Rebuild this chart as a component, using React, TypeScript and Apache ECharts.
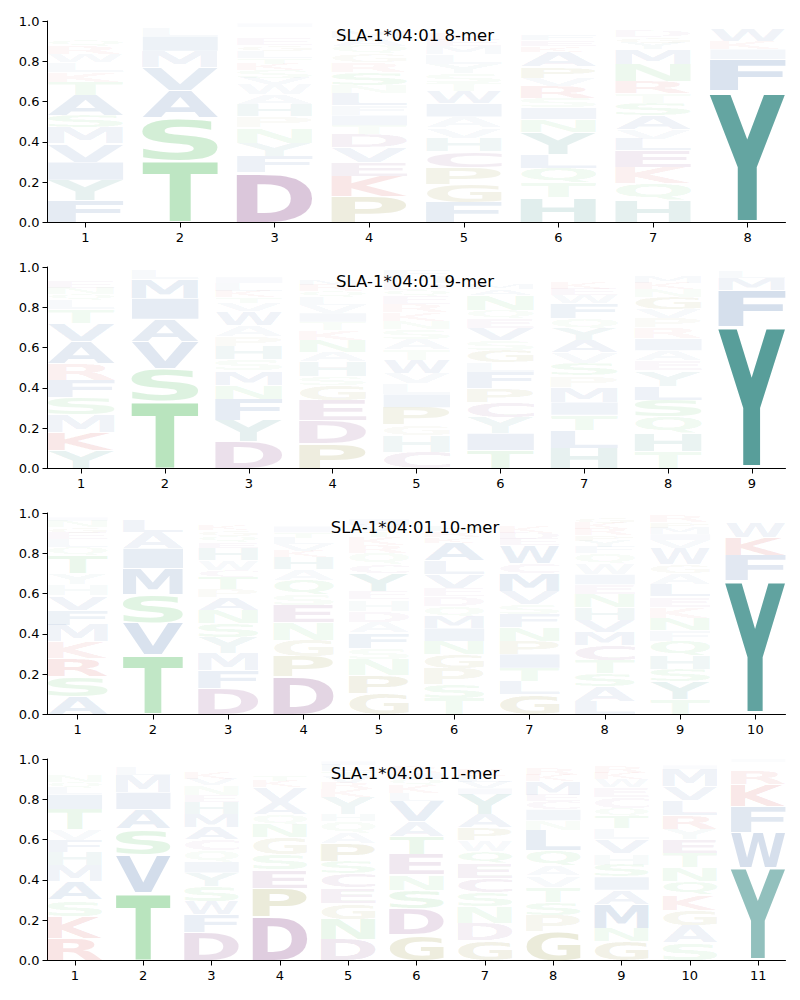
import React, { useEffect, useRef } from 'react';
import * as echarts from 'echarts';

type Col = [string, number][];

// Each column lists [letter, probability] from bottom to top.
const MER8: Col[] = [
  [['F', .11], ['Y', .10], ['I', .09], ['V', .09], ['M', .08], ['S', .06], ['A', .10], ['T', .065], ['K', .05], ['L', .05], ['W', .04], ['R', .04], ['Q', .03], ['N', .025], ['E', .02], ['H', .02], ['G', .015], ['D', .01], ['P', .005]],
  [['T', .31], ['S', .21], ['A', .135], ['V', .115], ['M', .08], ['I', .075], ['L', .04], ['F', .01], ['Q', .01], ['K', .008], ['W', .007]],
  [['D', .245], ['F', .08], ['Y', .065], ['N', .075], ['P', .055], ['H', .06], ['A', .05], ['W', .05], ['V', .03], ['S', .04], ['K', .03], ['T', .03], ['L', .03], ['G', .03], ['E', .03], ['M', .02], ['R', .02], ['Q', .02], ['I', .02], ['C', .01]],
  [['P', .127], ['K', .10], ['E', .07], ['V', .075], ['D', .065], ['T', .045], ['I', .05], ['F', .05], ['L', .06], ['N', .04], ['S', .065], ['R', .05], ['G', .04], ['Q', .04], ['A', .04], ['M', .03], ['Y', .02], ['C', .01], ['W', .01], ['H', .013]],
  [['F', .10], ['G', .09], ['P', .085], ['C', .08], ['H', .065], ['V', .05], ['A', .055], ['I', .065], ['W', .06], ['T', .04], ['S', .05], ['Y', .045], ['L', .05], ['M', .04], ['E', .03], ['K', .03], ['N', .025], ['R', .02], ['Q', .01], ['D', .01]],
  [['H', .125], ['T', .073], ['Q', .075], ['L', .07], ['Y', .11], ['N', .064], ['I', .058], ['S', .05], ['R', .058], ['V', .04], ['P', .058], ['A', .075], ['K', .03], ['E', .03], ['F', .03], ['M', .02], ['W', .01], ['G', .02], ['D', .014]],
  [['H', .11], ['Q', .083], ['K', .082], ['E', .082], ['L', .058], ['V', .045], ['A', .07], ['S', .06], ['T', .05], ['R', .06], ['N', .085], ['M', .075], ['Y', .03], ['G', .03], ['D', .03], ['W', .02], ['P', .02], ['C', .01]],
  [['Y', .655], ['F', .155], ['I', .05], ['K', .04], ['W', .06], ['M', .02], ['L', .02]],
];

const MER9: Col[] = [
  [['Y', .09], ['K', .09], ['M', .085], ['S', .085], ['F', .085], ['R', .08], ['A', .11], ['V', .09], ['T', .065], ['L', .045], ['Q', .03], ['N', .03], ['E', .03], ['G', .02], ['H', .02], ['D', .02], ['P', .015]],
  [['T', .335], ['S', .16], ['V', .135], ['A', .11], ['I', .105], ['M', .095], ['L', .05], ['F', .01]],
  [['D', .135], ['Y', .105], ['F', .105], ['N', .07], ['M', .07], ['S', .055], ['H', .065], ['P', .05], ['A', .055], ['W', .07], ['V', .04], ['T', .03], ['K', .03], ['L', .04], ['I', .03], ['E', .02], ['G', .02], ['R', .01]],
  [['P', .125], ['D', .115], ['E', .10], ['G', .075], ['S', .045], ['H', .075], ['A', .05], ['N', .06], ['K', .05], ['T', .04], ['I', .045], ['V', .04], ['L', .04], ['Q', .03], ['R', .03], ['M', .03], ['F', .02], ['Y', .02], ['W', .01], ['C', .01]],
  [['C', .08], ['H', .08], ['G', .05], ['P', .085], ['I', .065], ['L', .05], ['V', .05], ['W', .065], ['T', .05], ['A', .05], ['S', .05], ['N', .04], ['K', .04], ['R', .04], ['E', .04], ['Q', .03], ['D', .03], ['M', .03], ['F', .03], ['Y', .02]],
  [['T', .09], ['I', .085], ['Y', .08], ['C', .075], ['P', .07], ['F', .08], ['L', .05], ['G', .06], ['S', .05], ['V', .06], ['E', .045], ['Q', .045], ['N', .075], ['A', .03], ['M', .03], ['K', .025], ['H', .02], ['D', .015], ['R', .01], ['W', .01]],
  [['H', .10], ['L', .09], ['T', .075], ['I', .065], ['M', .075], ['P', .055], ['S', .06], ['V', .055], ['A', .06], ['Y', .06], ['Q', .05], ['F', .075], ['W', .04], ['E', .03], ['K', .03], ['R', .02], ['N', .02], ['D', .02], ['G', .02]],
  [['T', .085], ['H', .09], ['Q', .08], ['S', .085], ['L', .07], ['Y', .075], ['E', .05], ['A', .05], ['I', .06], ['R', .055], ['P', .045], ['V', .045], ['G', .06], ['N', .04], ['K', .03], ['M', .03], ['F', .02], ['W', .01], ['D', .01], ['C', .01]],
  [['Y', .705], ['F', .18], ['M', .06], ['L', .03], ['W', .025]],
];

const MER10: Col[] = [
  [['A', .09], ['S', .10], ['R', .09], ['K', .08], ['M', .085], ['F', .075], ['V', .07], ['H', .055], ['Y', .055], ['T', .09], ['Q', .04], ['L', .04], ['E', .03], ['G', .03], ['N', .03], ['I', .02], ['D', .02]],
  [['T', .295], ['V', .16], ['S', .14], ['M', .13], ['I', .10], ['A', .08], ['L', .06], ['F', .02], ['Q', .015]],
  [['D', .13], ['F', .09], ['M', .085], ['Y', .08], ['S', .07], ['N', .065], ['A', .065], ['P', .04], ['T', .065], ['C', .035], ['W', .05], ['H', .06], ['E', .03], ['Q', .03], ['G', .03], ['K', .03], ['L', .02], ['R', .02], ['V', .015]],
  [['D', .185], ['P', .10], ['G', .08], ['N', .085], ['E', .085], ['S', .055], ['Q', .07], ['A', .055], ['H', .06], ['K', .03], ['V', .03], ['L', .03], ['T', .03], ['I', .03], ['M', .02], ['R', .02], ['F', .015], ['W', .01]],
  [['G', .105], ['P', .09], ['N', .08], ['S', .055], ['F', .075], ['A', .055], ['D', .055], ['H', .055], ['E', .04], ['Y', .09], ['C', .045], ['Q', .055], ['R', .04], ['K', .04], ['T', .03], ['V', .03], ['I', .03], ['M', .02], ['W', .01]],
  [['T', .08], ['S', .07], ['P', .08], ['G', .07], ['N', .065], ['I', .065], ['M', .06], ['Q', .05], ['D', .05], ['E', .04], ['V', .07], ['L', .065], ['A', .09], ['K', .03], ['R', .03], ['H', .03], ['Y', .02], ['F', .02], ['W', .01], ['C', .01]],
  [['G', .10], ['L', .065], ['T', .065], ['I', .07], ['P', .065], ['N', .065], ['F', .065], ['S', .05], ['V', .065], ['M', .09], ['C', .05], ['W', .09], ['E', .03], ['D', .03], ['K', .03], ['R', .02], ['A', .02], ['Q', .02], ['H', .01]],
  [['L', .065], ['A', .075], ['S', .065], ['T', .065], ['C', .075], ['M', .065], ['V', .06], ['H', .06], ['N', .065], ['E', .05], ['I', .05], ['W', .055], ['Q', .05], ['F', .03], ['Y', .03], ['P', .03], ['R', .03], ['K', .03], ['G', .03], ['D', .02]],
  [['T', .075], ['Y', .09], ['S', .06], ['H', .065], ['Q', .075], ['F', .055], ['N', .06], ['K', .055], ['E', .05], ['L', .06], ['A', .055], ['G', .045], ['W', .08], ['V', .04], ['I', .03], ['M', .03], ['P', .03], ['R', .03], ['D', .015]],
  [['Y', .665], ['F', .125], ['K', .09], ['W', .075], ['L', .02], ['M', .015], ['R', .01]],
];

const MER11: Col[] = [
  [['R', .11], ['K', .11], ['S', .08], ['A', .09], ['M', .08], ['H', .065], ['F', .06], ['V', .055], ['T', .10], ['I', .075], ['L', .03], ['Q', .03], ['N', .03], ['G', .02], ['D', .02], ['E', .02], ['P', .015], ['W', .01]],
  [['T', .335], ['V', .19], ['S', .13], ['A', .095], ['I', .085], ['M', .085], ['L', .04], ['F', .02], ['Q', .01], ['K', .01]],
  [['D', .14], ['F', .09], ['W', .065], ['S', .075], ['Y', .065], ['I', .055], ['Q', .055], ['C', .055], ['A', .06], ['M', .065], ['H', .06], ['E', .035], ['N', .05], ['V', .03], ['K', .03], ['L', .02], ['R', .02], ['G', .02], ['T', .01]],
  [['D', .215], ['P', .145], ['E', .09], ['S', .075], ['G', .085], ['N', .065], ['Q', .05], ['A', .06], ['V', .075], ['K', .03], ['T', .03], ['L', .02], ['R', .02], ['H', .02], ['Y', .01], ['M', .01]],
  [['D', .105], ['N', .10], ['G', .08], ['E', .075], ['C', .07], ['S', .06], ['P', .09], ['A', .055], ['Q', .055], ['H', .035], ['Y', .085], ['K', .04], ['R', .03], ['V', .03], ['T', .03], ['L', .03], ['I', .02], ['M', .01]],
  [['G', .13], ['D', .13], ['S', .09], ['N', .075], ['E', .10], ['T', .09], ['A', .075], ['V', .10], ['L', .04], ['K', .04], ['Q', .03], ['I', .03], ['R', .03], ['P', .02], ['F', .02]],
  [['G', .10], ['D', .085], ['N', .08], ['S', .07], ['C', .07], ['E', .075], ['Q', .06], ['W', .055], ['P', .06], ['A', .065], ['Y', .10], ['I', .03], ['V', .03], ['L', .03], ['K', .03], ['R', .02], ['H', .02], ['M', .015]],
  [['G', .145], ['P', .08], ['S', .065], ['T', .075], ['V', .055], ['A', .05], ['Q', .075], ['L', .10], ['N', .05], ['I', .055], ['C', .04], ['E', .03], ['M', .07], ['K', .03], ['R', .03], ['Y', .02], ['W', .02], ['H', .01]],
  [['G', .095], ['N', .065], ['M', .12], ['A', .07], ['I', .065], ['S', .06], ['H', .055], ['V', .07], ['L', .055], ['T', .06], ['Q', .04], ['C', .055], ['E', .05], ['W', .04], ['K', .03], ['R', .03], ['Y', .02], ['F', .02]],
  [['S', .085], ['A', .085], ['G', .075], ['K', .075], ['Q', .065], ['N', .065], ['T', .07], ['E', .065], ['Y', .05], ['R', .065], ['L', .075], ['V', .065], ['M', .085], ['I', .02], ['H', .01], ['W', .01], ['F', .01]],
  [['Y', .46], ['W', .175], ['F', .13], ['K', .11], ['R', .07], ['L', .02], ['M', .02], ['I', .015]],
];

const PANEL_NAMES = ['8-mer', '9-mer', '10-mer', '11-mer'];
const PANEL_DATA = [MER8, MER9, MER10, MER11];
const TITLE_PREFIX = 'SLA-1*04:01';

const LETTERS = 'ACDEFGHIKLMNPQRSTVWY';
const GROUPS: Record<string, string> = {
  Y: 'teal', H: 'teal',
  A: 'blue', V: 'blue', L: 'blue', I: 'blue', M: 'blue', F: 'blue', W: 'blue',
  S: 'green', T: 'green', N: 'green', Q: 'green',
  G: 'olive', P: 'olive',
  D: 'purple', E: 'purple', C: 'purple',
  K: 'red', R: 'red',
};
const GROUP_RGB: Record<string, [number, number, number]> = {
  teal: [18, 117, 112],
  blue: [20, 75, 150],
  green: [45, 175, 60],
  olive: [120, 115, 0],
  purple: [105, 25, 105],
  red: [200, 20, 20],
};

const FONT_FAMILY = 'DejaVu Sans';
const GLYPH_FONT = `bold 100px "${FONT_FAMILY}"`;
const GLYPH_WIDTH = 0.8;
const VPAD = 0.05;

type Metric = { L: number; R: number; A: number; D: number };

// Offset (px, at 100px) of the alphabetic baseline below the SVG "central" baseline.
function measureCentralOffset(fallback: number): number {
  try {
    const NS = 'http://www.w3.org/2000/svg';
    const svg = document.createElementNS(NS, 'svg');
    svg.setAttribute('width', '300');
    svg.setAttribute('height', '300');
    svg.setAttribute('style', 'position:absolute;left:-2000px;top:0;');
    const mk = (baseline: string | null) => {
      const t = document.createElementNS(NS, 'text');
      t.setAttribute('x', '0');
      t.setAttribute('y', '150');
      t.setAttribute('style', `font: ${GLYPH_FONT}`);
      if (baseline) t.setAttribute('dominant-baseline', baseline);
      t.textContent = 'H';
      svg.appendChild(t);
      return t;
    };
    const a = mk(null);
    const c = mk('central');
    document.body.appendChild(svg);
    const off = c.getBBox().y - a.getBBox().y;
    document.body.removeChild(svg);
    if (!isFinite(off) || off === 0) return fallback;
    return off;
  } catch (e) {
    return fallback;
  }
}

function measureGlyphs(): Record<string, Metric> {
  const canvas = document.createElement('canvas');
  const ctx = canvas.getContext('2d')!;
  ctx.font = GLYPH_FONT;
  ctx.textAlign = 'center';
  ctx.textBaseline = 'alphabetic';
  const ref = ctx.measureText('H');
  const fallback = ((ref as any).fontBoundingBoxAscent - (ref as any).fontBoundingBoxDescent) / 2 || 34.6;
  const c = measureCentralOffset(fallback);
  const out: Record<string, Metric> = {};
  for (const ch of LETTERS) {
    const m = ctx.measureText(ch);
    out[ch] = {
      L: m.actualBoundingBoxLeft,
      R: m.actualBoundingBoxRight,
      A: m.actualBoundingBoxAscent - c,
      D: m.actualBoundingBoxDescent + c,
    };
  }
  return out;
}

function buildSeriesData(cols: Col[]) {
  const rows: number[][] = [];
  cols.forEach((col, ci) => {
    const total = col.reduce((s, [, p]) => s + p, 0);
    let acc = 0;
    for (const [ch, p] of col) {
      const b = acc / total;
      acc += p;
      const t = acc / total;
      rows.push([ci + 1, b, t, LETTERS.indexOf(ch), p]);
    }
  });
  return rows;
}

export default function App() {
  const ref = useRef<HTMLDivElement>(null);

  useEffect(() => {
    if (!ref.current) return;
    const chart = echarts.init(ref.current, null, { renderer: 'svg', width: 800, height: 1000 });
    const metrics = measureGlyphs();

    const GRID_LEFT = 47.5;
    const GRID_WIDTH = 738;
    const GRID_TOP0 = 21;
    const GRID_STEP = 246;
    const GRID_HEIGHT = 201.5;
    const tickFont = 13;

    const grids = PANEL_DATA.map((_, i) => ({
      left: GRID_LEFT,
      width: GRID_WIDTH,
      top: GRID_TOP0 + GRID_STEP * i,
      height: GRID_HEIGHT,
      outerBoundsMode: 'none',
      containLabel: false,
    }));

    const xAxes = PANEL_DATA.map((cols, i) => {
      const positions = cols.map((_, k) => k + 1);
      return {
        type: 'value',
        gridIndex: i,
        min: 1 - GLYPH_WIDTH / 2,
        max: cols.length + GLYPH_WIDTH / 2,
        splitLine: { show: false },
        axisLine: { show: true, onZero: false, lineStyle: { color: '#000', width: 1 } },
        axisTick: { show: true, length: 5, lineStyle: { color: '#000', width: 1 }, customValues: positions },
        axisLabel: {
          show: true,
          customValues: positions,
          margin: 8,
          color: '#000',
          fontSize: tickFont,
          fontFamily: FONT_FAMILY,
          formatter: (v: number) => String(Math.round(v)),
        },
      };
    });

    const yAxes = PANEL_DATA.map((_, i) => ({
      type: 'value',
      gridIndex: i,
      min: 0,
      max: 1,
      interval: 0.2,
      splitLine: { show: false },
      axisLine: { show: true, onZero: false, lineStyle: { color: '#000', width: 1 } },
      axisTick: { show: true, length: 5, lineStyle: { color: '#000', width: 1 } },
      axisLabel: {
        show: true,
        margin: 8,
        color: '#000',
        fontSize: tickFont,
        fontFamily: FONT_FAMILY,
        formatter: (v: number) => v.toFixed(1),
      },
    }));

    const titles = PANEL_NAMES.map((name, i) => ({
      text: `${TITLE_PREFIX} ${name}`,
      left: 415,
      top: 27 + GRID_STEP * i,
      textAlign: 'center',
      padding: 0,
      textStyle: { fontSize: 16.5, fontWeight: 'normal', fontFamily: FONT_FAMILY, color: '#000' },
    }));

    const series = PANEL_DATA.map((cols, i) => ({
      type: 'custom',
      xAxisIndex: i,
      yAxisIndex: i,
      silent: true,
      clip: false,
      data: buildSeriesData(cols),
      renderItem: (_params: any, api: any) => {
        const pos = api.value(0);
        const b = api.value(1);
        const t = api.value(2);
        const ch = LETTERS[api.value(3)];
        const p = api.value(4);
        const m = metrics[ch];
        const x0 = api.coord([pos - GLYPH_WIDTH / 2, 0])[0];
        const x1 = api.coord([pos + GLYPH_WIDTH / 2, 0])[0];
        const yb0 = api.coord([pos, b])[1];
        const yt0 = api.coord([pos, t])[1];
        const h = yb0 - yt0;
        const pad = (h * VPAD) / 2;
        const yt = yt0 + pad;
        const yb = yb0 - pad;
        const sx = (x1 - x0) / (m.L + m.R);
        const sy = (yb - yt) / (m.A + m.D);
        const [r, g, bl] = GROUP_RGB[GROUPS[ch]];
        const alpha = Math.max(0, Math.min(1, p));
        return {
          type: 'text',
          x: x0 + m.L * sx,
          y: yt + m.A * sy,
          scaleX: sx,
          scaleY: sy,
          silent: true,
          style: {
            text: ch,
            font: GLYPH_FONT,
            textAlign: 'center',
            textVerticalAlign: 'middle',
            align: 'center',
            verticalAlign: 'middle',
            fill: `rgba(${r},${g},${bl},${alpha})`,
          },
        };
      },
    }));

    chart.setOption({
      animation: false,
      backgroundColor: '#fff',
      title: titles,
      grid: grids,
      xAxis: xAxes,
      yAxis: yAxes,
      series,
    } as any);

    return () => chart.dispose();
  }, []);

  return (
    <div style={{ position: 'absolute', left: 0, top: 0, width: 800, height: 1000, background: '#fff' }}>
      <div ref={ref} style={{ width: 800, height: 1000 }} />
    </div>
  );
}
